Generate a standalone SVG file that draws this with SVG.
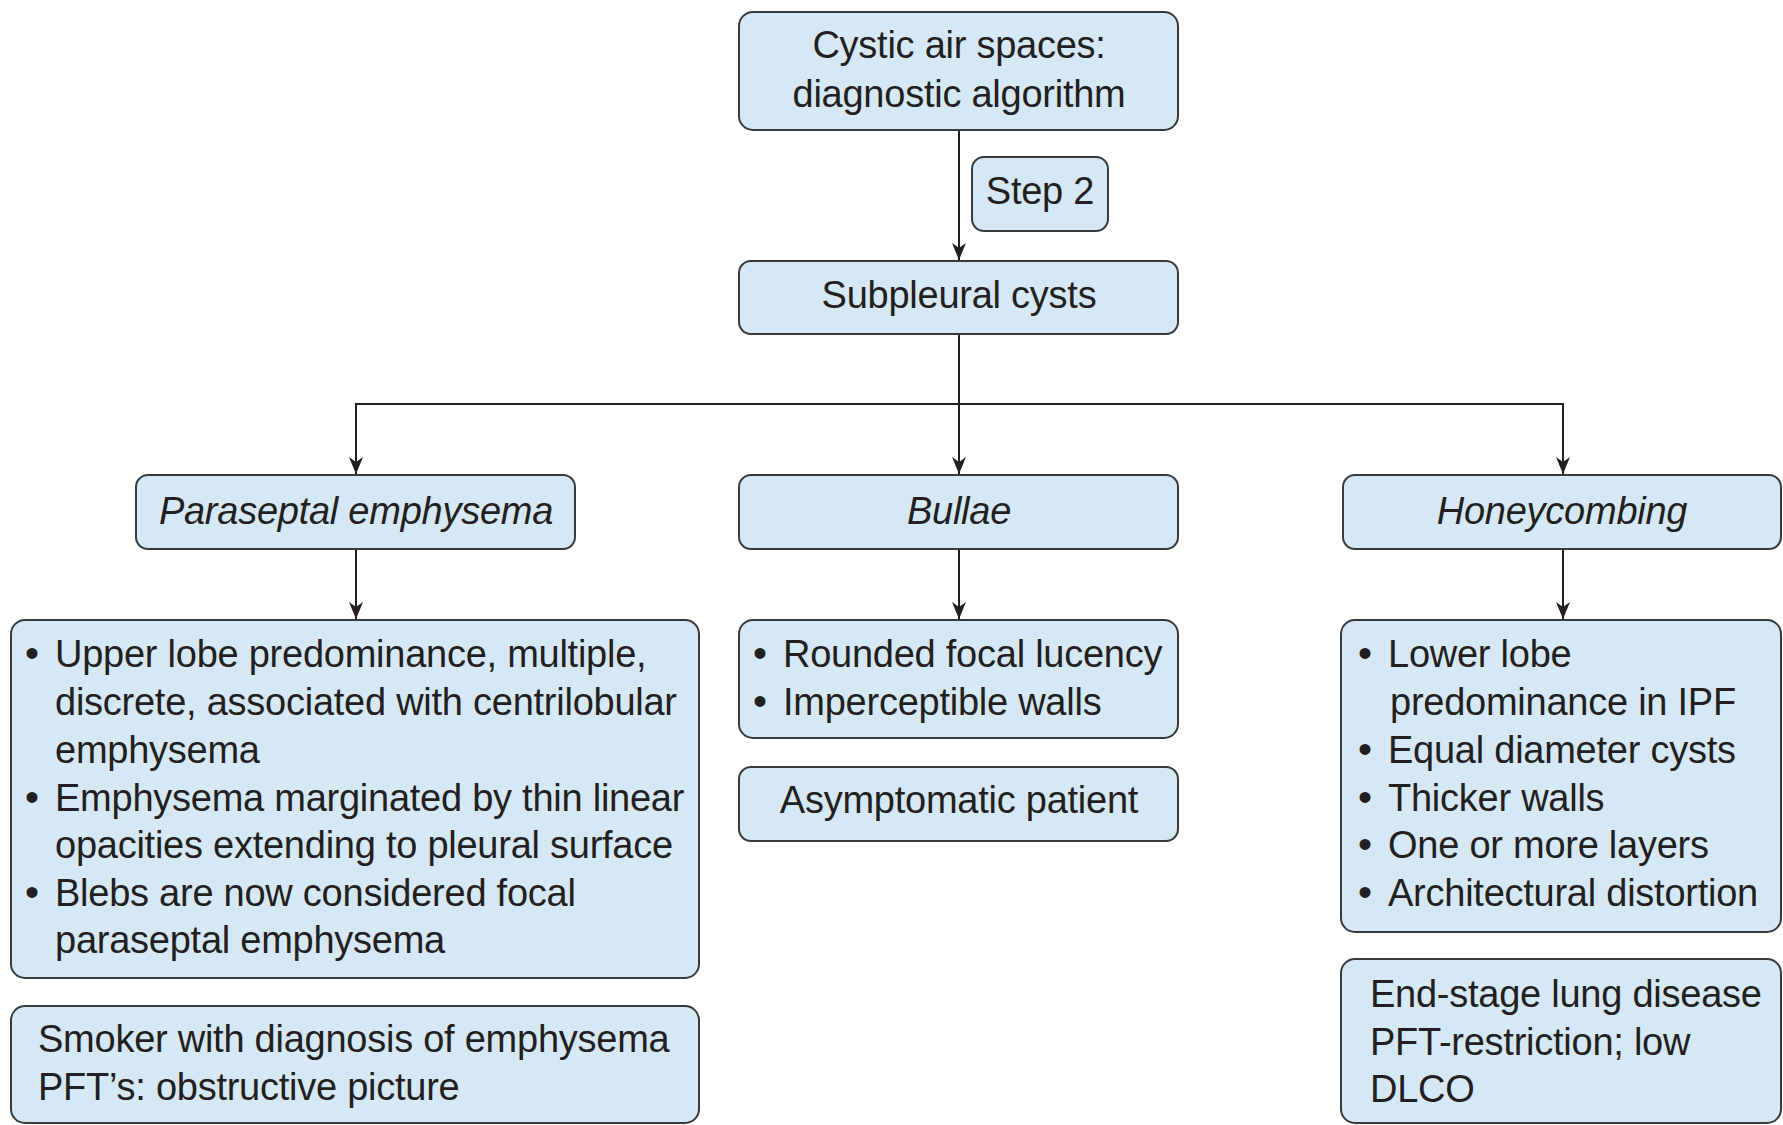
<svg xmlns="http://www.w3.org/2000/svg" width="1783" height="1125" viewBox="0 0 1783 1125">
<style>
.box{fill:#d6e8f5;stroke:#3a3a3a;stroke-width:2}
text{font-family:"Liberation Sans",Arial,sans-serif;font-size:38px;letter-spacing:-0.25px;fill:#231f20}
.c{text-anchor:middle}
.i{font-style:italic}
.b{font-size:40px}
.ln{stroke:#231f20;stroke-width:2;fill:none}
</style>
<defs>
<marker id="ah" markerWidth="17" markerHeight="14" refX="17" refY="7" orient="auto" markerUnits="userSpaceOnUse" viewBox="0 0 17 14">
<path d="M0,0 L17,7 L0,14 L5,7 Z" fill="#231f20"/>
</marker>
</defs>
<g id="connectors">
<line class="ln" x1="959" y1="130" x2="959" y2="260" marker-end="url(#ah)"/>
<line class="ln" x1="959" y1="334" x2="959" y2="474" marker-end="url(#ah)"/>
<polyline class="ln" points="356,404 1563,404"/>
<line class="ln" x1="356" y1="403" x2="356" y2="474" marker-end="url(#ah)"/>
<line class="ln" x1="1563" y1="403" x2="1563" y2="474" marker-end="url(#ah)"/>
<line class="ln" x1="356" y1="549" x2="356" y2="619" marker-end="url(#ah)"/>
<line class="ln" x1="959" y1="549" x2="959" y2="619" marker-end="url(#ah)"/>
<line class="ln" x1="1563" y1="549" x2="1563" y2="619" marker-end="url(#ah)"/>
</g>
<g id="top">
<rect class="box" x="739" y="12" width="439" height="118" rx="14"/>
<text class="c" x="959" y="58">Cystic air spaces:</text>
<text class="c" x="959" y="107">diagnostic algorithm</text>
</g>
<g id="step2">
<rect class="box" x="972" y="157" width="136" height="74" rx="12"/>
<text class="c" x="1040" y="204">Step 2</text>
</g>
<g id="subpleural">
<rect class="box" x="739" y="261" width="439" height="73" rx="12"/>
<text class="c" x="959" y="308">Subpleural cysts</text>
</g>
<g id="paraseptal">
<rect class="box" x="136" y="475" width="439" height="74" rx="12"/>
<text class="c i" x="356" y="524">Paraseptal emphysema</text>
</g>
<g id="bullae">
<rect class="box" x="739" y="475" width="439" height="74" rx="12"/>
<text class="c i" x="959" y="524">Bullae</text>
</g>
<g id="honeycombing">
<rect class="box" x="1343" y="475" width="438" height="74" rx="12"/>
<text class="c i" x="1562" y="524">Honeycombing</text>
</g>
<g id="paraseptal-features">
<rect class="box" x="11" y="620" width="688" height="358" rx="14"/>
<text class="b" x="25" y="667">•</text><text x="55" y="667">Upper lobe predominance, multiple,</text>
<text x="55" y="715">discrete, associated with centrilobular</text>
<text x="55" y="763">emphysema</text>
<text class="b" x="25" y="811">•</text><text x="55" y="811">Emphysema marginated by thin linear</text>
<text x="55" y="858">opacities extending to pleural surface</text>
<text class="b" x="25" y="906">•</text><text x="55" y="906">Blebs are now considered focal</text>
<text x="55" y="953">paraseptal emphysema</text>
</g>
<g id="smoker">
<rect class="box" x="11" y="1006" width="688" height="117" rx="14"/>
<text x="38" y="1052">Smoker with diagnosis of emphysema</text>
<text x="38" y="1100">PFT’s: obstructive picture</text>
</g>
<g id="bullae-features">
<rect class="box" x="739" y="620" width="439" height="118" rx="14"/>
<text class="b" x="753" y="667">•</text><text x="783" y="667">Rounded focal lucency</text>
<text class="b" x="753" y="715">•</text><text x="783" y="715">Imperceptible walls</text>
</g>
<g id="asymptomatic">
<rect class="box" x="739" y="767" width="439" height="74" rx="12"/>
<text class="c" x="959" y="813">Asymptomatic patient</text>
</g>
<g id="honeycombing-features">
<rect class="box" x="1341" y="620" width="440" height="312" rx="14"/>
<text class="b" x="1358" y="667">•</text><text x="1388" y="667">Lower lobe</text>
<text x="1390" y="715">predominance in IPF</text>
<text class="b" x="1358" y="763">•</text><text x="1388" y="763">Equal diameter cysts</text>
<text class="b" x="1358" y="811">•</text><text x="1388" y="811">Thicker walls</text>
<text class="b" x="1358" y="858">•</text><text x="1388" y="858">One or more layers</text>
<text class="b" x="1358" y="906">•</text><text x="1388" y="906">Architectural distortion</text>
</g>
<g id="end-stage">
<rect class="box" x="1341" y="959" width="440" height="164" rx="14"/>
<text x="1370" y="1007">End-stage lung disease</text>
<text x="1370" y="1055">PFT-restriction; low</text>
<text x="1370" y="1102">DLCO</text>
</g>
</svg>
